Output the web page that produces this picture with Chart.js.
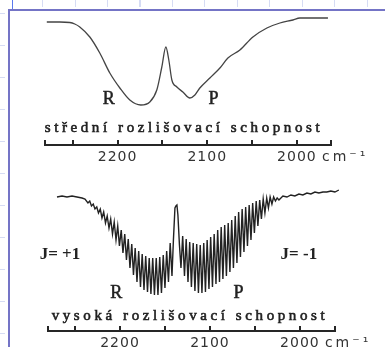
<!DOCTYPE html>
<html>
<head>
<meta charset="utf-8">
<script src="https://cdn.jsdelivr.net/npm/chart.js@4.4.1/dist/chart.umd.min.js"></script>
<style>
  html, body { margin: 0; padding: 0; background: #fff; width: 385px; height: 347px; overflow: hidden; position: relative; }
  canvas { position: absolute; left: 0; }
  #mid { top: 0; }
  #hi { top: 170px; }
  .frameL { position: absolute; left: 8px; top: 9px; width: 2px; height: 340px; background: #7474c6; }
  .frameT { position: absolute; left: 8px; top: 9px; width: 380px; height: 2px; background: #7474c6; }
  .mark { position: absolute; left: 12px; top: 0; width: 1px; height: 9px; background: #5a78ee; }
  .gridT { position: absolute; left: 42px; top: 0; width: 343px; height: 7px;
    background: repeating-linear-gradient(to right, #d6dcf4 0 1px, transparent 1px 32.5px); }
  .gridL { position: absolute; left: 0; top: 13px; width: 5px; height: 334px;
    background: repeating-linear-gradient(to bottom, #d6dcf4 0 1px, transparent 1px 32px); }
</style>
</head>
<body>
<div class="gridT"></div>
<div class="gridL"></div>
<div class="mark"></div>
<div class="frameL"></div>
<div class="frameT"></div>
<canvas id="mid" width="385" height="170"></canvas>
<canvas id="hi" width="385" height="200"></canvas>
<script>
// wavenumber axis (cm-1): tick marks and the labelled ones
const axisTicks = [2000, 2050, 2100, 2150, 2200, 2250];
const labelledTicks = [2200, 2100, 2000];

// medium resolution spectrum (transmission, arbitrary units)
const midWn = [2279, 2264.5, 2253.3, 2247.8, 2242.2, 2231, 2219.9, 2208.7, 2197.5, 2186.4,
  2174.1, 2164.1, 2156.3, 2150.7, 2146.2, 2142.9, 2139.5, 2133.9, 2127.2, 2119.4,
  2113.8, 2108.3, 2097.1, 2085.9, 2077, 2063.6, 2049.1, 2033.5, 2019, 2004.5, 1996.7, 1965.4];
const midT = [96, 96, 95.5, 94, 91, 81, 65, 45, 30, 18,
  13, 16, 28, 51, 71, 58, 38, 31, 26, 20,
  23, 30, 40, 50, 60, 68, 81, 90, 95, 98, 100, 100];

// high resolution spectrum: rotational lines (line minima and the maxima between them)
const hiWn = [2270, 2264.4, 2258.9, 2253.3, 2247.8, 2242.2, 2238.9,
  2235.6, 2233.6, 2231.7, 2229.7, 2227.8, 2225.8, 2223.9, 2221.9, 2220.0, 2218.1,
  2216.1, 2214.2, 2212.2, 2210.3, 2208.3, 2206.4, 2204.4, 2202.5, 2200.6, 2198.6,
  2196.7, 2194.7, 2192.8, 2190.8, 2188.9, 2186.9, 2185.0, 2183.1, 2181.1, 2179.2,
  2177.2, 2175.3, 2173.3, 2171.4, 2169.4, 2167.5, 2165.6, 2163.6, 2161.7, 2159.7,
  2157.8, 2155.8, 2153.9, 2151.9, 2150.0, 2148.1, 2146.1, 2144.2, 2142.2,
  2140.6, 2138.9, 2137.8, 2136.7, 2135.6, 2133.9,
  2132.2, 2130.3, 2128.3, 2126.4, 2124.4, 2122.5, 2120.6, 2118.6, 2116.7, 2114.7,
  2112.8, 2110.8, 2108.9, 2106.9, 2105.0, 2103.1, 2101.1, 2099.2, 2097.2, 2095.3,
  2093.3, 2091.4, 2089.4, 2087.5, 2085.6, 2083.6, 2081.7, 2079.7, 2077.8, 2075.8,
  2073.9, 2071.9, 2070.0, 2068.1, 2066.1, 2064.2, 2062.2, 2060.3, 2058.3, 2056.4,
  2054.4, 2052.5, 2050.6, 2048.6, 2046.7, 2044.7, 2042.8, 2040.8, 2038.9, 2036.9,
  2035.0, 2033.1, 2031.1, 2029.2, 2027.2, 2025.3, 2023.3,
  2018.9, 2014.4, 2010.0, 2005.6, 2001.1, 1996.7, 1992.2, 1987.8, 1983.3, 1978.9,
  1974.4, 1970.0, 1965.6, 1961.1, 1956.7];
const hiT = [94, 95, 94, 95, 94, 93, 92,
  88, 90, 85, 87, 82, 84, 78, 82, 73, 79,
  68, 75, 63, 72, 57, 69, 51, 65, 45, 61,
  38, 57, 31, 52, 23, 47, 16, 43, 9, 40,
  4, 37, 1, 35, -1, 33, -3, 33, -4, 33,
  -4, 34, -2, 36, 3, 40, 9, 48, 15,
  51, 83, 85, 86, 76, 46,
  23, 55, 15, 52, 9, 49, 4, 48, 0, 47,
  -2, 46, -2, 48, -1, 51, 2, 54, 4, 57,
  7, 61, 9, 64, 12, 66, 15, 68, 19, 71,
  23, 75, 28, 79, 34, 82, 39, 84, 45, 86,
  51, 88, 58, 90, 65, 91, 72, 92, 78, 93,
  83, 94, 87, 94, 90, 93, 91,
  95, 94, 96, 95, 97, 96, 98, 97, 99, 98,
  99, 99, 100, 99, 101];

const INK = '#262626';
const FONTS = {
  branch: '18px "Liberation Serif"',
  j: 'bold 17px "Liberation Serif"',
  caption: '15px "Liberation Serif"',
};
const SPACING = { branch: '0px', j: '0px', caption: '3.6px' };
const STROKE = { branch: 0.5, j: 0, caption: 0.6 };

const notesPlugin = {
  id: 'notes',
  beforeDraw(chart) { chart.ctx.letterSpacing = '1px'; },
  afterDraw(chart, args, opts) {
    const { ctx } = chart;
    const x = chart.scales.x, y = chart.scales.y;
    ctx.save();
    ctx.textAlign = 'center';
    ctx.textBaseline = 'middle';
    ctx.fillStyle = '#222';
    ctx.strokeStyle = '#222';
    for (const n of opts.items) {
      const px = x.getPixelForValue(n.wn), py = y.getPixelForValue(n.t);
      ctx.font = FONTS[n.kind];
      ctx.letterSpacing = SPACING[n.kind];
      ctx.fillText(n.text, px, py);
      if (STROKE[n.kind]) {
        ctx.lineWidth = STROKE[n.kind];
        ctx.strokeText(n.text, px, py);
      }
    }
    // unit after the last labelled tick
    const item = x.getLabelItems().find(it => it.label === '2000');
    if (item) {
      ctx.font = '14px "DejaVu Sans"';
      ctx.letterSpacing = '3px';
      ctx.fillStyle = '#333';
      ctx.textAlign = 'left';
      ctx.textBaseline = item.options.textBaseline;
      ctx.fillText('cm\u207B\u00B9', x.getPixelForValue(2000) + 25,
        item.options.translation[1] + item.textOffset);
    }
    ctx.restore();
  }
};

function makeChart(id, wn, t, o) {
  return new Chart(document.getElementById(id), {
    type: 'line',
    data: {
      datasets: [{
        data: wn.map((w, i) => ({ x: w, y: t[i] })),
        borderColor: o.color,
        borderWidth: o.width,
        pointRadius: 0,
        tension: 0,
        cubicInterpolationMode: o.smooth ? 'monotone' : 'default',
        fill: false,
        clip: false,
      }]
    },
    options: {
      responsive: false,
      animation: false,
      events: [],
      layout: { padding: { left: o.left, right: 385 - o.right, top: o.top, bottom: 0 } },
      plugins: {
        legend: { display: false },
        tooltip: { enabled: false },
        notes: { items: o.notes },
      },
      scales: {
        x: {
          type: 'linear',
          reverse: true,
          min: o.xmin,
          max: o.xmax,
          afterBuildTicks: s => {
            s.ticks = [s.min, ...axisTicks, s.max].map(v => ({ value: v }));
          },
          afterFit: s => { s.height = o.axisH; },
          border: { color: INK, width: 2 },
          grid: { drawOnChartArea: false, drawTicks: true, tickLength: -5, color: INK, lineWidth: 2 },
          ticks: {
            autoSkip: false,
            maxRotation: 0,
            padding: o.labelPad,
            color: '#333',
            font: { family: 'DejaVu Sans', size: 14 },
            callback: v => labelledTicks.includes(v) ? String(v) : '',
          },
        },
        y: { display: false, min: o.ymin, max: o.ymax },
      }
    },
    plugins: [notesPlugin]
  });
}

makeChart('mid', midWn, midT, {
  color: '#444', width: 1.3, smooth: true,
  left: 45, right: 331, top: 10, axisH: 25, labelPad: 9,
  xmin: 1962, xmax: 2281, ymin: -27, ymax: 108,
  notes: [
    { text: 'R', wn: 2210, t: 19, kind: 'branch' },
    { text: 'P', wn: 2093, t: 19, kind: 'branch' },
    { text: 'střední rozlišovací schopnost', wn: 2126, t: -10, kind: 'caption' },
  ],
});

makeChart('hi', hiWn, hiT, {
  color: '#222', width: 1.4, smooth: false,
  left: 48, right: 335, top: 10, axisH: 39, labelPad: 9,
  xmin: 1961, xmax: 2280, ymin: -40, ymax: 111,
  notes: [
    { text: 'J= +1', wn: 2266.7, t: 36, kind: 'j' },
    { text: 'J= -1', wn: 2001.1, t: 36, kind: 'j' },
    { text: 'R', wn: 2204, t: -2, kind: 'branch' },
    { text: 'P', wn: 2068.3, t: -2, kind: 'branch' },
    { text: 'vysoká rozlišovací schopnost', wn: 2122.2, t: -25, kind: 'caption' },
  ],
});
</script>
</body>
</html>
